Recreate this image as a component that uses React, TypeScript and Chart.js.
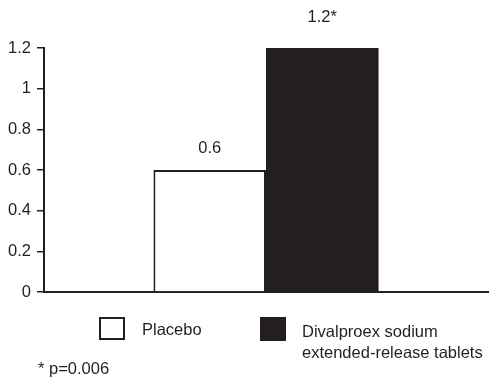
import React, { useEffect, useRef } from "react";
import { Chart, registerables } from "chart.js";

Chart.register(...registerables);

const categories: string[] = [""];
const seriesNames: string[] = ["Placebo", "Divalproex sodium extended-release tablets"];
const placeboValues: number[] = [0.6];
const divalproexValues: number[] = [1.2];
const valueLabels: string[] = ["0.6", "1.2*"];
const yTickLabels: string[] = ["0", "0.2", "0.4", "0.6", "0.8", "1", "1.2"];
const footnote = "* p=0.006";

const INK = "#231f20";
const FONT = "'Liberation Sans', Arial, Helvetica, sans-serif";
const labelOffsets = [17, 26];

export default function App() {
  const canvasRef = useRef<HTMLCanvasElement | null>(null);

  useEffect(() => {
    const canvas = canvasRef.current;
    if (!canvas) return;

    const valueLabelPlugin = {
      id: "valueLabels",
      afterDatasetsDraw(chart: any) {
        const ctx = chart.ctx;
        ctx.save();
        ctx.fillStyle = INK;
        ctx.font = `16.5px ${FONT}`;
        ctx.textAlign = "center";
        ctx.textBaseline = "alphabetic";
        chart.data.datasets.forEach((_ds: any, i: number) => {
          const meta = chart.getDatasetMeta(i);
          const el = meta.data[0];
          if (!el) return;
          ctx.fillText(valueLabels[i], el.x, el.y - labelOffsets[i]);
        });
        ctx.restore();
      },
    };

    const chart = new Chart(canvas, {
      type: "bar",
      data: {
        labels: categories,
        datasets: [
          {
            label: seriesNames[0],
            data: placeboValues,
            backgroundColor: "#ffffff",
            borderColor: INK,
            borderWidth: 2,
            categoryPercentage: 0.507,
            barPercentage: 1,
          },
          {
            label: seriesNames[1],
            data: divalproexValues,
            backgroundColor: INK,
            borderColor: INK,
            borderWidth: 0,
            categoryPercentage: 0.507,
            barPercentage: 1,
          },
        ],
      },
      options: {
        responsive: false,
        maintainAspectRatio: false,
        animation: false,
        layout: { padding: { left: 0, right: 12, top: 48, bottom: 96 } },
        plugins: {
          legend: { display: false },
          tooltip: { enabled: false },
        },
        scales: {
          x: {
            type: "category",
            ticks: { display: false },
            grid: { display: true, drawOnChartArea: false, drawTicks: false, color: INK },
            border: { display: true, color: INK, width: 2 },
            afterFit: (scale: any) => {
              scale.height = 0;
            },
          },
          y: {
            min: 0,
            max: 1.2,
            ticks: {
              stepSize: 0.2,
              color: INK,
              padding: 6,
              font: { family: FONT, size: 16.5 },
              callback: (_v: any, index: number) => yTickLabels[index],
            },
            grid: {
              display: true,
              drawOnChartArea: false,
              drawTicks: true,
              tickLength: 7,
              color: INK,
              lineWidth: 1.5,
            },
            border: { display: true, color: INK, width: 2 },
            afterFit: (scale: any) => {
              scale.width = 44;
            },
          },
        },
      },
      plugins: [valueLabelPlugin],
    });

    return () => {
      chart.destroy();
    };
  }, []);

  const text: React.CSSProperties = {
    position: "absolute",
    fontFamily: FONT,
    fontSize: 16.5,
    lineHeight: "21px",
    color: INK,
    whiteSpace: "nowrap",
  };

  return (
    <div
      style={{
        position: "fixed",
        left: 0,
        top: 0,
        width: 500,
        height: 388,
        background: "#ffffff",
        overflow: "hidden",
      }}
    >
      <canvas ref={canvasRef} width={500} height={388} style={{ display: "block" }} />
      <div
        style={{
          position: "absolute",
          left: 99,
          top: 317,
          width: 26,
          height: 23,
          boxSizing: "border-box",
          border: `2px solid ${INK}`,
          background: "#fff",
        }}
      />
      <div style={{ ...text, left: 142, top: 319 }}>{seriesNames[0]}</div>
      <div
        style={{
          position: "absolute",
          left: 260,
          top: 317,
          width: 26,
          height: 24,
          background: INK,
        }}
      />
      <div style={{ ...text, left: 302, top: 321 }}>
        Divalproex sodium
        <br />
        extended-release tablets
      </div>
      <div style={{ ...text, left: 38, top: 358 }}>{footnote}</div>
    </div>
  );
}
